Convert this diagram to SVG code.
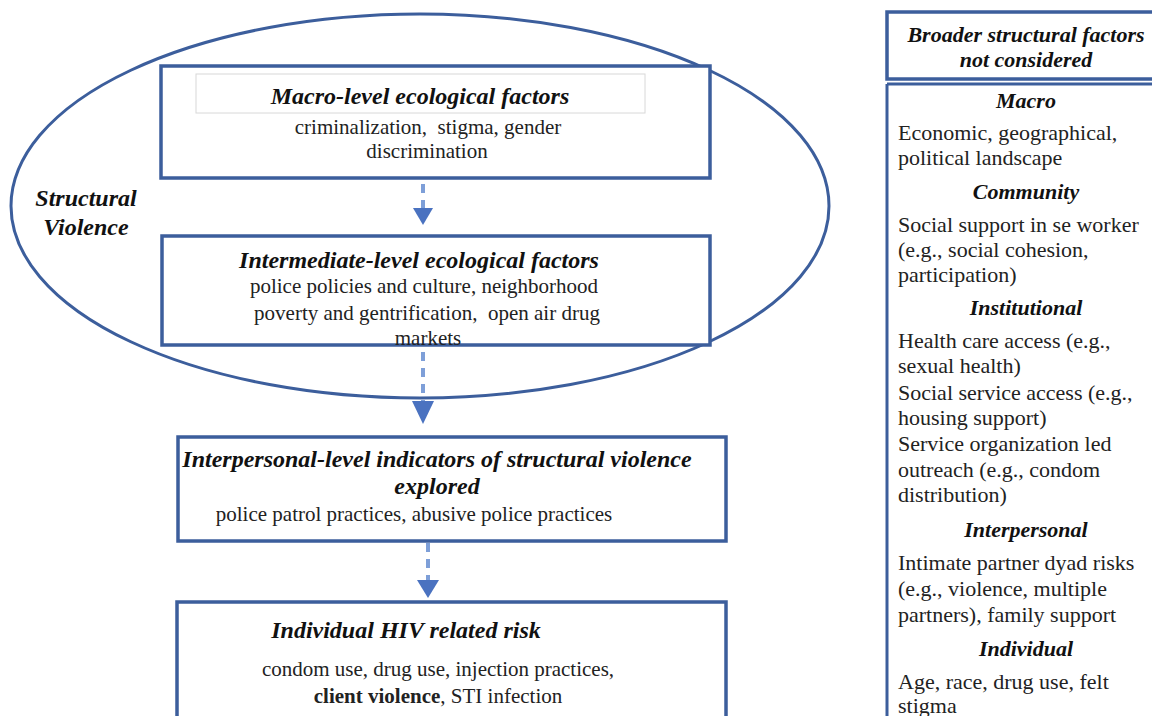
<svg xmlns="http://www.w3.org/2000/svg" width="1152" height="716" viewBox="0 0 1152 716">
<style>
.box{fill:#fff;stroke:#3c5e9c;stroke-width:3.5}
.ell{fill:none;stroke:#3c5e9c;stroke-width:3}
.ttl{font-family:'Liberation Serif','Times New Roman',serif;font-weight:bold;font-style:italic;font-size:24px;fill:#111;text-anchor:middle}
.txt{font-family:'Liberation Serif','Times New Roman',serif;font-size:21px;fill:#222;text-anchor:middle}
.rt{font-family:'Liberation Serif','Times New Roman',serif;font-size:22px;fill:#222}
.rh{font-family:'Liberation Serif','Times New Roman',serif;font-weight:bold;font-style:italic;font-size:22px;fill:#111;text-anchor:middle}
.dash{stroke:#7e9fd8;stroke-width:4;stroke-dasharray:9,7;fill:none}
.head{fill:#4a72c0}
</style>
<rect width="1152" height="716" fill="#fff"/>
<g id="structural-violence">
<ellipse class="ell" cx="420" cy="206" rx="409" ry="192"/>
<text class="ttl" x="86" y="206">Structural</text>
<text class="ttl" x="86" y="235">Violence</text>
</g>
<g id="macro">
<rect class="box" x="161" y="66" width="549" height="112"/>
<rect x="196" y="74" width="449" height="39" fill="#fff" stroke="#d8d8d8" stroke-width="1"/>
<text class="ttl" x="420" y="104">Macro-level ecological factors</text>
<text class="txt" x="428" y="134" xml:space="preserve">criminalization,  stigma, gender</text>
<text class="txt" x="427" y="158">discrimination</text>
</g>
<g id="intermediate">
<rect class="box" x="162" y="236" width="548" height="109"/>
<text class="ttl" x="419" y="268">Intermediate-level ecological factors</text>
<text class="txt" x="424" y="293">police policies and culture, neighborhood</text>
<text class="txt" x="427" y="320" xml:space="preserve">poverty and gentrification,  open air drug</text>
<text class="txt" x="428" y="345">markets</text>
</g>
<g id="interpersonal">
<rect class="box" x="178" y="437" width="548" height="104"/>
<text class="ttl" x="437" y="467">Interpersonal-level indicators of structural violence</text>
<text class="ttl" x="437" y="494">explored</text>
<text class="txt" x="414" y="521">police patrol practices, abusive police practices</text>
</g>
<g id="individual">
<rect class="box" x="177" y="602" width="549" height="130"/>
<text class="ttl" x="406" y="638">Individual HIV related risk</text>
<text class="txt" x="438" y="676">condom use, drug use, injection practices,</text>
<text class="txt" x="438" y="703"><tspan font-weight="bold">client violence</tspan>, STI infection</text>
</g>
<g id="connectors">
<line class="dash" x1="423" y1="184" x2="423" y2="209"/>
<polygon class="head" points="413,208 433,208 423,225"/>
<line class="dash" x1="423" y1="352" x2="423" y2="401"/>
<polygon class="head" points="412,401 434,401 423,424"/>
<line class="dash" x1="428" y1="543" x2="428" y2="580"/>
<polygon class="head" points="417,580 439,580 428,598"/>
</g>
<g id="broader">
<rect class="box" x="887" y="12" width="270" height="67"/>
<text class="rh" x="1026" y="42">Broader structural factors</text>
<text class="rh" x="1026" y="67">not considered</text>
<path d="M887 84 H1160 M887 84 V720" stroke="#3c5e9c" stroke-width="3" fill="none"/>
<text class="rh" x="1026" y="108">Macro</text>
<text class="rt" x="898" y="140">Economic, geographical,</text>
<text class="rt" x="898" y="165">political landscape</text>
<text class="rh" x="1026" y="199">Community</text>
<text class="rt" x="898" y="232">Social support in se worker</text>
<text class="rt" x="898" y="257">(e.g., social cohesion,</text>
<text class="rt" x="898" y="282">participation)</text>
<text class="rh" x="1026" y="315">Institutional</text>
<text class="rt" x="898" y="348">Health care access (e.g.,</text>
<text class="rt" x="898" y="373">sexual health)</text>
<text class="rt" x="898" y="400">Social service access (e.g.,</text>
<text class="rt" x="898" y="425">housing support)</text>
<text class="rt" x="898" y="451">Service organization led</text>
<text class="rt" x="898" y="477">outreach (e.g., condom</text>
<text class="rt" x="898" y="502">distribution)</text>
<text class="rh" x="1026" y="537">Interpersonal</text>
<text class="rt" x="898" y="570">Intimate partner dyad risks</text>
<text class="rt" x="898" y="596">(e.g., violence, multiple</text>
<text class="rt" x="898" y="622">partners), family support</text>
<text class="rh" x="1026" y="656">Individual</text>
<text class="rt" x="898" y="689">Age, race, drug use, felt</text>
<text class="rt" x="898" y="713">stigma</text>
</g>
</svg>
